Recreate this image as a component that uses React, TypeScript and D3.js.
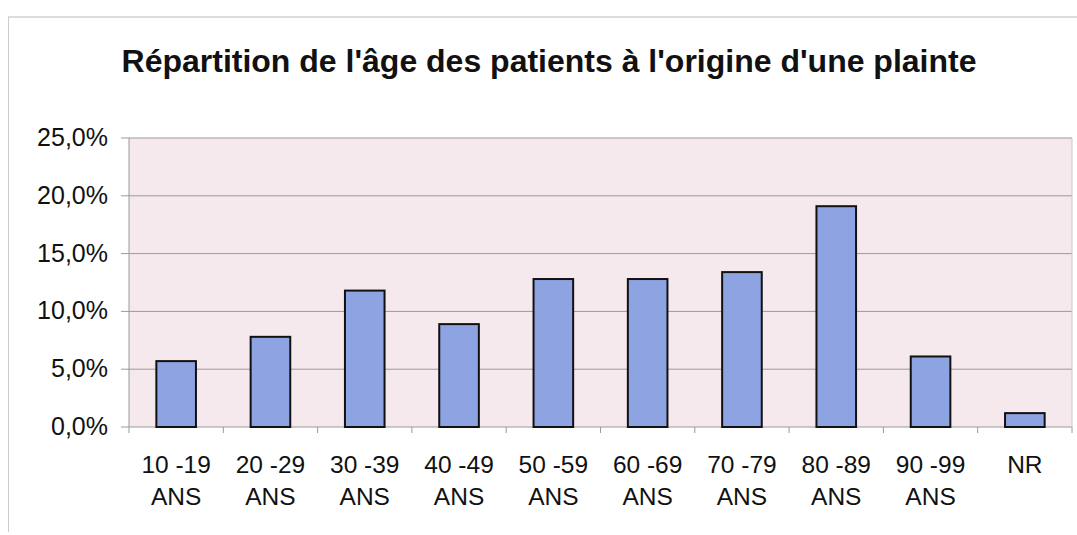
import React from "react";
import * as d3 from "d3";

const categories = ["10 -19|ANS", "20 -29|ANS", "30 -39|ANS", "40 -49|ANS", "50 -59|ANS", "60 -69|ANS", "70 -79|ANS", "80 -89|ANS", "90 -99|ANS", "NR"];
const values = [5.7, 7.8, 11.8, 8.9, 12.8, 12.8, 13.4, 19.1, 6.1, 1.2];
const yTicks = [0, 5, 10, 15, 20, 25];
const title = "Répartition de l'âge des patients à l'origine d'une plainte";

const W = 1077, H = 535;
const left = 129, right = 1072, top = 138, bottom = 427;

export default function App() {
  const x = d3.scaleBand<string>().domain(categories).range([left, right]).paddingInner(0.58).paddingOuter(0.29);
  const y = d3.scaleLinear().domain([0, 25]).range([bottom, top]);
  const step = x.step();
  const fmt = (v: number) => v.toFixed(1).replace(".", ",") + "%";
  return (
    <div style={{ position: "absolute", left: 0, top: 0 }}>
      <svg width={W} height={H} style={{ display: "block", fontFamily: "Arial, 'Liberation Sans', sans-serif" }}>
        <rect x={0} y={0} width={W} height={H} fill="#fff" />
        <line x1={8} y1={17} x2={W} y2={17} stroke="#bbb" strokeWidth={1} />
        <line x1={8.5} y1={17} x2={8.5} y2={532} stroke="#ccc" strokeWidth={1} />
        <text x={549} y={72} textAnchor="middle" fontSize={32} fontWeight="bold" fill="#111">{title}</text>
        <rect x={left} y={top} width={right - left} height={bottom - top} fill="#f6e9ee" />
        {yTicks.map((t) => (
          <g key={t}>
            <line x1={left} x2={right} y1={y(t)} y2={y(t)} stroke="#9a9a9a" strokeWidth={1} />
            <line x1={left - 8} x2={left} y1={y(t)} y2={y(t)} stroke="#9a9a9a" strokeWidth={1} />
            <text x={108} y={y(t) + 8} textAnchor="end" fontSize={25} fill="#111">{fmt(t)}</text>
          </g>
        ))}
        <line x1={left} x2={left} y1={top} y2={bottom} stroke="#9a9a9a" strokeWidth={1} />
        <line x1={right} x2={right} y1={top} y2={bottom} stroke="#c8c8c8" strokeWidth={1} />
        {categories.map((c, i) => (
          <line key={"t" + i} x1={left + i * step} x2={left + i * step} y1={bottom} y2={bottom + 6} stroke="#9a9a9a" />
        ))}
        <line x1={right} x2={right} y1={bottom} y2={bottom + 6} stroke="#9a9a9a" />
        {categories.map((c, i) => (
          <rect key={c} x={x(c)} y={y(values[i])} width={x.bandwidth()} height={bottom - y(values[i])} fill="#8ea3e2" stroke="#111" strokeWidth={2} />
        ))}
        {categories.map((c) => {
          const cx = (x(c) as number) + x.bandwidth() / 2;
          const lines = c.split("|");
          return (
            <text key={"l" + c} x={cx} textAnchor="middle" fontSize={24.5} fill="#111">
              {lines.map((l, j) => (
                <tspan key={j} x={cx} y={473 + j * 32}>{l}</tspan>
              ))}
            </text>
          );
        })}
      </svg>
    </div>
  );
}
